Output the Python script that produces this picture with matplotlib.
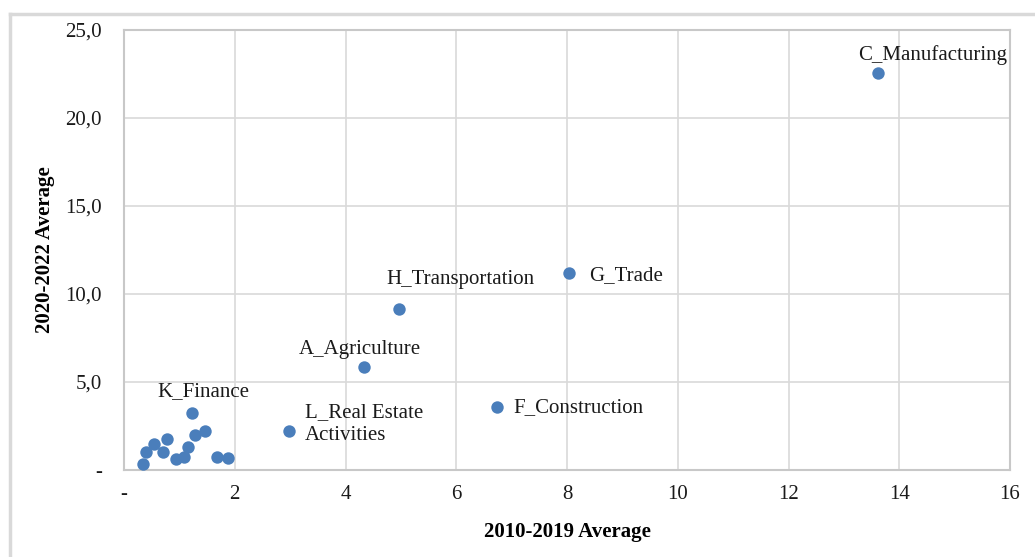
import matplotlib
matplotlib.use("Agg")
import matplotlib.pyplot as plt
from matplotlib.lines import Line2D

# Data
x_avg = [13.61, 8.03, 4.96, 4.33, 6.73, 2.98, 1.23,
         0.35, 0.39, 0.55, 0.71, 0.78, 0.94, 1.08, 1.16, 1.29, 1.46, 1.68, 1.88]
y_avg = [22.56, 11.19, 9.15, 5.85, 3.58, 2.22, 3.24,
         0.34, 1.04, 1.49, 1.04, 1.74, 0.63, 0.76, 1.29, 1.99, 2.22, 0.76, 0.70]
labels = ["C_Manufacturing", "G_Trade", "H_Transportation", "A_Agriculture",
          "F_Construction", "L_Real Estate\nActivities", "K_Finance"]
x_ticks = [0, 2, 4, 6, 8, 10, 12, 14, 16]
x_tick_labels = ["-", "2", "4", "6", "8", "10", "12", "14", "16"]
y_ticks = [0, 5, 10, 15, 20, 25]
y_tick_labels = ["-", "5,0", "10,0", "15,0", "20,0", "25,0"]

# label offsets (pixels) and alignment
offsets = [(55, 18, "center"), (20, -3, "left"), (62, 29, "center"), (-4, 18, "center"),
           (17, -1, "left"), (16, 7, "left"), (11, 21, "center")]

plt.rcParams['font.family'] = ['Liberation Serif', 'DejaVu Serif']

fig = plt.figure(figsize=(10.35, 5.57), dpi=100)
ax = fig.add_axes([124/1035, 1-470/557, (1010-124)/1035, (470-30)/557])

ax.scatter(x_avg, y_avg, s=80, color="#4a7ebb", zorder=3, linewidths=0)

for i, lab in enumerate(labels):
    dx, dy, ha = offsets[i]
    ax.annotate(lab, (x_avg[i], y_avg[i]), xytext=(dx, dy), textcoords="offset pixels",
                ha=ha, va="center", fontsize=15, color="#1a1a1a", linespacing=1.25)

ax.set_xlim(0, 16)
ax.set_ylim(0, 25)
ax.set_xticks(x_ticks)
ax.set_xticklabels(x_tick_labels)
ax.set_yticks(y_ticks)
ax.set_yticklabels(y_tick_labels)
ax.tick_params(axis="both", length=0, labelsize=15, colors="#1a1a1a")
ax.tick_params(axis="x", pad=11)
ax.tick_params(axis="y", pad=16)
ax.grid(True, color="#d9d9d9", linewidth=1.2)
ax.set_axisbelow(True)
for sp in ax.spines.values():
    sp.set_color("#c8c8c8")
    sp.set_linewidth(1.5)

ax.set_xlabel("2010-2019 Average", fontsize=15, fontweight="bold", labelpad=13)
ax.set_ylabel("2020-2022 Average", fontsize=15, fontweight="bold", labelpad=7)

# outer chart frame
fig.add_artist(Line2D([10/1035, 10/1035], [0, 1-14/557], transform=fig.transFigure,
                      color="#d9d9d9", linewidth=2.5))
fig.add_artist(Line2D([10/1035, 1], [1-14/557, 1-14/557], transform=fig.transFigure,
                      color="#d9d9d9", linewidth=2.5))

fig.savefig("out.png", dpi=100)
